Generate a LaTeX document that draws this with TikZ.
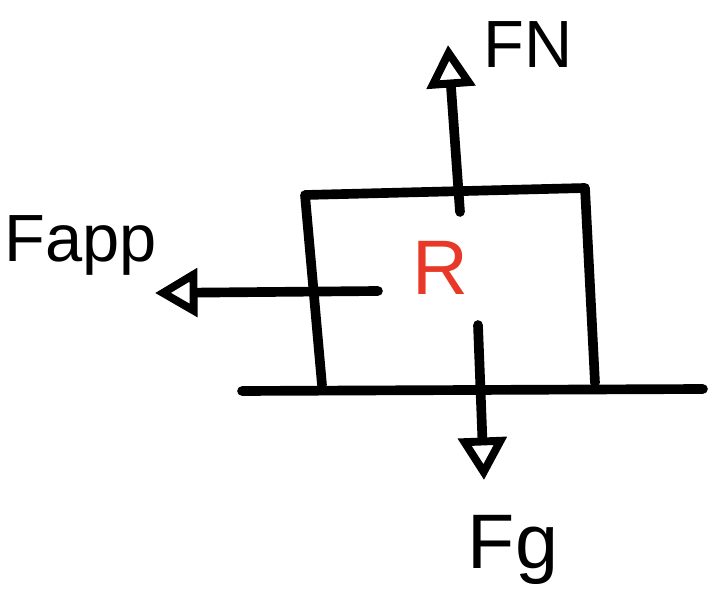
\documentclass[tikz,border=0pt]{standalone}
\usepackage{fontspec}
\setmainfont{Liberation Sans}
\usepackage{xcolor}
\usetikzlibrary{arrows.meta}
\definecolor{penred}{RGB}{232,56,40}
\begin{document}
\begin{tikzpicture}[line cap=round,line join=round,
 pen/.style={line width=5.5pt,black},
 force/.style={pen,-{Triangle[open,length=0.85cm,width=0.95cm,line width=4.5pt]}},
 lbl/.style={font=\fontsize{44}{52}\selectfont,inner sep=0pt}]
\useasboundingbox (0,0) rectangle (14.16,12.2);
% ground and block
\coordinate (g1) at (4.84,4.38);
\coordinate (g2) at (14.06,4.42);
\coordinate (bl) at (6.44,4.5);
\coordinate (tl) at (6.1,8.3);
\coordinate (tr) at (11.7,8.44);
\coordinate (br) at (11.9,4.54);
\draw[pen](g1)--(g2);
\draw[pen](bl)--(tl)--(tr)--(br);
% forces
\coordinate (n0) at (9.2,7.96);
\coordinate (n1) at (8.96,11.3);
\coordinate (a0) at (7.56,6.38);
\coordinate (a1) at (3.1,6.34);
\coordinate (w0) at (9.56,5.7);
\coordinate (w1) at (9.68,2.6);
\draw[force](n0)--(n1);
\draw[force](a0)--(a1);
\draw[force](w0)--(w1);
\node[lbl,text=penred] (r) at (8.8,6.84) {R};
\node[lbl,font=\fontsize{38}{44}\selectfont] (fn) at (10.56,11.3) {FN};
\node[lbl,font=\fontsize{38}{44}\selectfont] (fapp) at (1.62,7.3) {Fapp};
\node[lbl] (fg) at (10.26,1.2) {Fg};
\end{tikzpicture}
\end{document}
